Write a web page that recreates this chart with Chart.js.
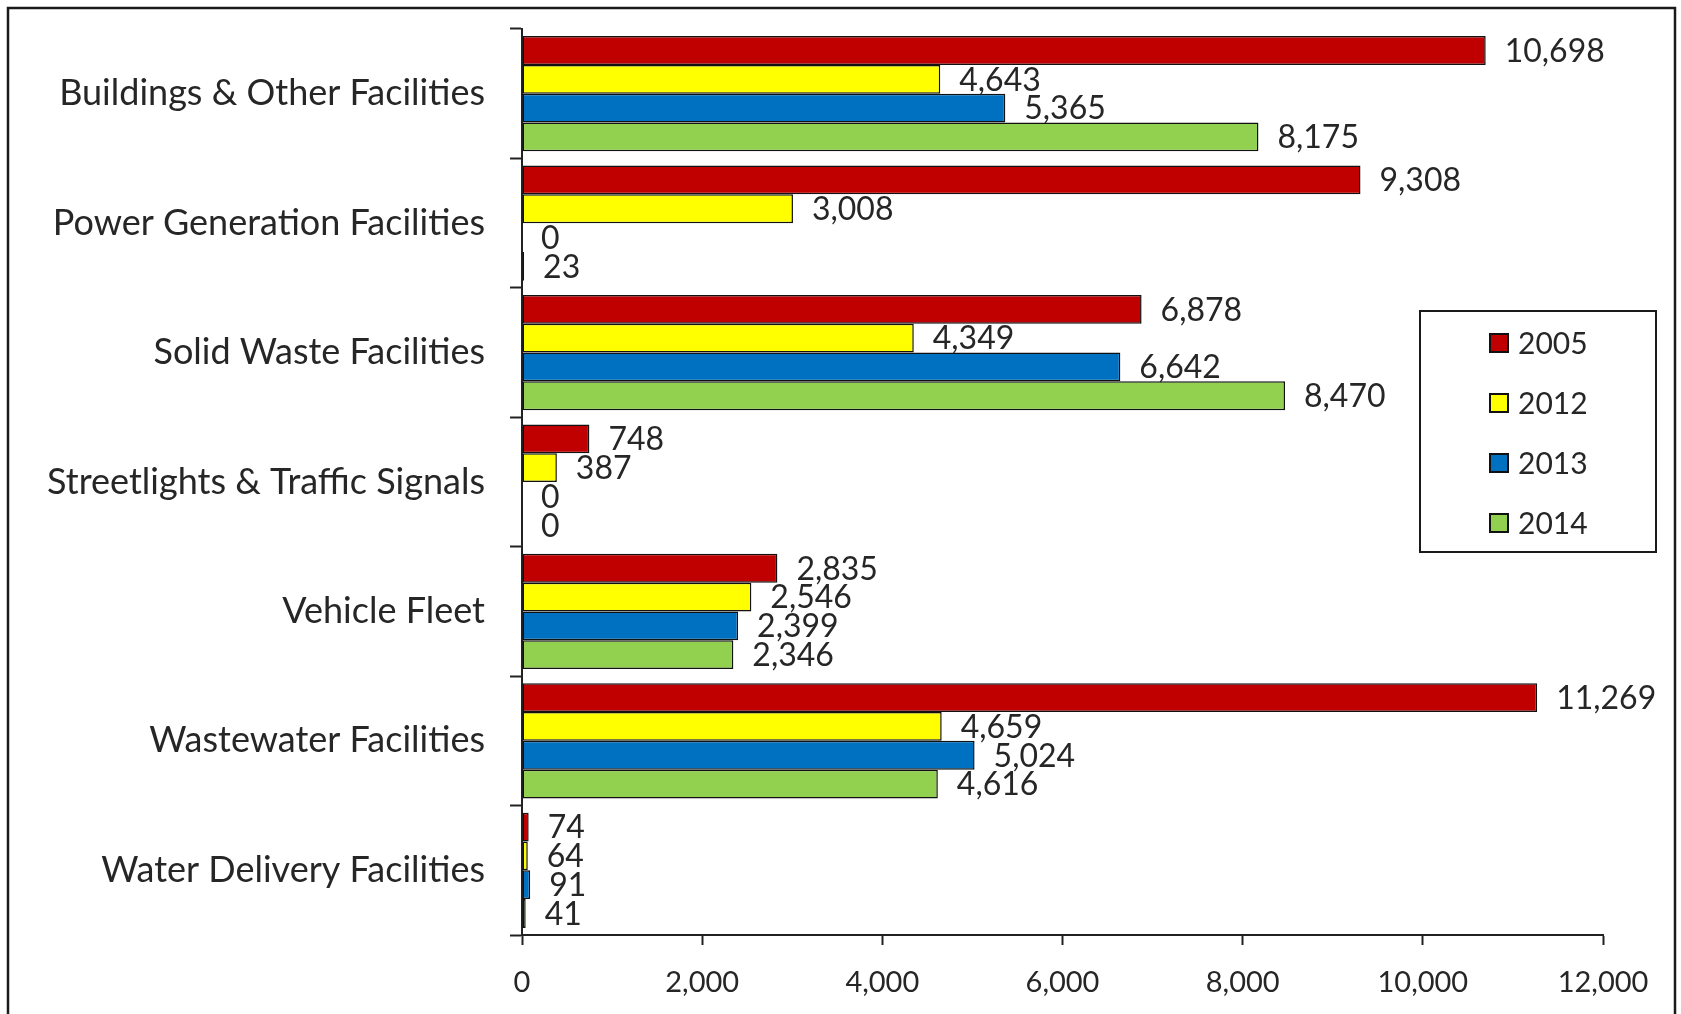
<!DOCTYPE html>
<html>
<head>
<meta charset="utf-8">
<title>Emissions by Sector</title>
<script src="https://cdn.jsdelivr.net/npm/chart.js@4/dist/chart.umd.min.js"></script>
<style>
  html, body { margin: 0; padding: 0; background: #fff; }
  #wrap { width: 1681px; height: 1014px; }
</style>
</head>
<body>
<div id="wrap"><canvas id="c" width="1681" height="1014"></canvas></div>
<script>
const categories = [
  'Buildings & Other Facilities',
  'Power Generation Facilities',
  'Solid Waste Facilities',
  'Streetlights & Traffic Signals',
  'Vehicle Fleet',
  'Wastewater Facilities',
  'Water Delivery Facilities'
];
const seriesNames = ['2005', '2012', '2013', '2014'];
const values2005 = [10698, 9308, 6878, 748, 2835, 11269, 74];
const values2012 = [4643, 3008, 4349, 387, 2546, 4659, 64];
const values2013 = [5365, 0, 6642, 0, 2399, 5024, 91];
const values2014 = [8175, 23, 8470, 0, 2346, 4616, 41];
const seriesColors = ['#C00000', '#FFFF00', '#0070C0', '#92D050'];
const axisMax = 12000;
const axisStep = 2000;

const fmt = v => v.toLocaleString('en-US');
const TEXT = '#262626';

// Outer frame around the whole chart
const framePlugin = {
  id: 'frame',
  beforeDraw(chart) {
    const ctx = chart.ctx;
    ctx.save();
    ctx.fillStyle = '#fff';
    ctx.fillRect(0, 0, chart.width, chart.height);
    ctx.strokeStyle = '#1a1a1a';
    ctx.lineWidth = 2.5;
    ctx.strokeRect(8, 8, 1667, 1020);
    ctx.restore();
  }
};

// Value labels just past the end of each bar
const valueLabels = {
  id: 'valueLabels',
  afterDatasetsDraw(chart) {
    const ctx = chart.ctx;
    ctx.save();
    ctx.font = '32px Lato';
    ctx.fillStyle = TEXT;
    ctx.textAlign = 'left';
    ctx.textBaseline = 'middle';
    chart.data.datasets.forEach((ds, di) => {
      const meta = chart.getDatasetMeta(di);
      meta.data.forEach((bar, i) => {
        ctx.fillText(fmt(ds.data[i]), bar.x + 19, bar.y + 1);
      });
    });
    ctx.restore();
  }
};

// Boxed legend inside the plot, right side
const boxLegend = {
  id: 'boxLegend',
  afterDraw(chart) {
    const ctx = chart.ctx;
    const box = { x: 1420, y: 311, w: 236, h: 241 };
    ctx.save();
    ctx.fillStyle = '#fff';
    ctx.fillRect(box.x, box.y, box.w, box.h);
    ctx.strokeStyle = '#1a1a1a';
    ctx.lineWidth = 2;
    ctx.strokeRect(box.x, box.y, box.w, box.h);
    ctx.font = '30px Lato';
    ctx.textBaseline = 'middle';
    chart.data.datasets.forEach((ds, i) => {
      const cy = 343 + i * 60;
      ctx.fillStyle = ds.backgroundColor;
      ctx.fillRect(1490, cy - 9, 18, 18);
      ctx.lineWidth = 2;
      ctx.strokeStyle = '#111';
      ctx.strokeRect(1490, cy - 9, 18, 18);
      ctx.fillStyle = TEXT;
      ctx.fillText(ds.label, 1518, cy + 1);
    });
    ctx.restore();
  }
};

const seriesValues = [values2005, values2012, values2013, values2014];

new Chart(document.getElementById('c'), {
  type: 'bar',
  data: {
    labels: categories,
    datasets: seriesNames.map((name, i) => ({
      label: name,
      data: seriesValues[i],
      backgroundColor: seriesColors[i],
      borderColor: '#111',
      borderWidth: ctx => (ctx.raw === 0 ? 0 : 1.5),
      borderSkipped: false,
      categoryPercentage: 0.89,
      barPercentage: 1.0
    }))
  },
  options: {
    indexAxis: 'y',
    responsive: false,
    devicePixelRatio: 1,
    animation: false,
    layout: { padding: { top: 29, right: 78, left: 0, bottom: 0 } },
    plugins: {
      legend: { display: false },
      tooltip: { enabled: false }
    },
    scales: {
      x: {
        min: 0,
        max: axisMax,
        afterFit(scale) {
          scale.height = 79;
          scale.paddingLeft = 0;
          scale.paddingRight = 0;
        },
        ticks: {
          stepSize: axisStep,
          color: TEXT,
          font: { family: 'Lato', size: 29 },
          padding: 20,
          maxRotation: 0,
          callback: v => fmt(v)
        },
        grid: {
          drawOnChartArea: false,
          drawTicks: true,
          tickLength: 10,
          tickWidth: 2,
          color: '#222'
        },
        border: { display: true, color: '#222', width: 2 }
      },
      y: {
        afterFit(scale) {
          scale.width = 522;
          scale.paddingTop = 0;
          scale.paddingBottom = 0;
        },
        ticks: {
          color: TEXT,
          font: { family: 'Lato', size: 36 },
          padding: 25
        },
        grid: {
          offset: true,
          drawOnChartArea: false,
          drawTicks: true,
          tickLength: 12,
          tickWidth: 2,
          color: '#222'
        },
        border: { display: true, color: '#222', width: 2 }
      }
    }
  },
  plugins: [framePlugin, valueLabels, boxLegend]
});
</script>
</body>
</html>
